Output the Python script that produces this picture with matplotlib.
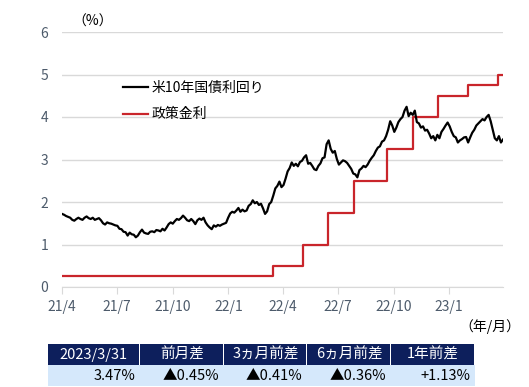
import numpy as np
import pandas as pd
import matplotlib
matplotlib.use('Agg')
import matplotlib.pyplot as plt
import matplotlib.dates as mdates
from matplotlib.patches import Rectangle

plt.rcParams['font.family'] = ['Noto Sans CJK JP', 'DejaVu Sans']

# US 10y yield, ~9 readings per month, 2021/4 - 2023/3
yield_10y = [
    1.72, 1.70, 1.67, 1.65, 1.63, 1.58, 1.56, 1.60, 1.63,  # 21/4
    1.60, 1.58, 1.63, 1.66, 1.62, 1.60, 1.63, 1.58, 1.60,  # 21/5
    1.62, 1.57, 1.50, 1.47, 1.52, 1.50, 1.49, 1.47, 1.45,  # 21/6
    1.44, 1.37, 1.36, 1.30, 1.29, 1.21, 1.28, 1.24, 1.23,  # 21/7
    1.17, 1.21, 1.29, 1.35, 1.28, 1.26, 1.25, 1.30, 1.31,  # 21/8
    1.29, 1.34, 1.33, 1.31, 1.37, 1.33, 1.40, 1.48, 1.52,  # 21/9
    1.49, 1.55, 1.60, 1.58, 1.62, 1.68, 1.63, 1.57, 1.55,  # 21/10
    1.60, 1.55, 1.48, 1.57, 1.61, 1.58, 1.63, 1.52, 1.45,  # 21/11
    1.40, 1.36, 1.45, 1.42, 1.46, 1.44, 1.47, 1.49, 1.51,  # 21/12
    1.63, 1.73, 1.77, 1.75, 1.80, 1.86, 1.77, 1.82, 1.78,  # 22/1
    1.80, 1.91, 1.95, 2.04, 1.97, 2.00, 1.93, 1.96, 1.85,  # 22/2
    1.72, 1.78, 1.95, 2.00, 2.15, 2.32, 2.38, 2.48, 2.35,  # 22/3
    2.40, 2.55, 2.72, 2.80, 2.93, 2.85, 2.90, 2.84, 2.94,  # 22/4
    2.97, 3.05, 3.10, 2.90, 2.92, 2.85, 2.77, 2.75, 2.85,  # 22/5
    2.91, 3.03, 3.05, 3.36, 3.45, 3.25, 3.16, 3.20, 3.01,  # 22/6
    2.88, 2.93, 2.98, 2.96, 2.92, 2.85, 2.78, 2.67, 2.65,  # 22/7
    2.58, 2.75, 2.79, 2.85, 2.82, 2.88, 2.97, 3.04, 3.10,  # 22/8
    3.20, 3.28, 3.31, 3.42, 3.45, 3.55, 3.70, 3.90, 3.80,  # 22/9
    3.65, 3.75, 3.88, 3.95, 4.00, 4.15, 4.24, 4.02, 4.10,  # 22/10
    4.05, 4.15, 3.88, 3.85, 3.75, 3.78, 3.68, 3.70, 3.61,  # 22/11
    3.50, 3.55, 3.45, 3.58, 3.50, 3.65, 3.72, 3.80, 3.87,  # 22/12
    3.78, 3.65, 3.55, 3.52, 3.40, 3.45, 3.48, 3.52, 3.53,  # 23/1
    3.40, 3.52, 3.63, 3.70, 3.80, 3.85, 3.90, 3.95, 3.92,  # 23/2
    4.00, 4.05, 3.90, 3.70, 3.50, 3.45, 3.55, 3.40, 3.47,  # 23/3
]
yield_dates = pd.date_range('2021-04-01', '2023-03-31', periods=len(yield_10y))

# policy rate (upper bound) change dates
policy_dates = pd.to_datetime(['2021-04-01', '2022-03-16', '2022-05-04', '2022-06-15',
                               '2022-07-27', '2022-09-21', '2022-11-02', '2022-12-14',
                               '2023-02-01', '2023-03-22', '2023-03-31'])
policy_rate = [0.25, 0.5, 1.0, 1.75, 2.5, 3.25, 4.0, 4.5, 4.75, 5.0, 5.0]

tick_dates = pd.to_datetime(['2021-04-01', '2021-07-01', '2021-10-01', '2022-01-01',
                             '2022-04-01', '2022-07-01', '2022-10-01', '2023-01-01'])
tick_labels = ['21/4', '21/7', '21/10', '22/1', '22/4', '22/7', '22/10', '23/1']

table_header = ['2023/3/31', '前月差', '3ヵ月前差', '6ヵ月前差', '1年前差']
table_values = ['3.47%', '▲0.45%', '▲0.41%', '▲0.36%', '+1.13%']

W, H = 529, 387
fig = plt.figure(figsize=(W / 100, H / 100), dpi=100)
ax = fig.add_axes([62 / W, (H - 287) / H, (503 - 62) / W, (287 - 32) / H])

tick_color = '#4d5b6b'
ax.plot(yield_dates, yield_10y, color='black', lw=1.6, label='米10年国債利回り', zorder=3)
ax.plot(policy_dates, policy_rate, color='#c9252b', lw=1.6, drawstyle='steps-post',
        label='政策金利', zorder=2)

ax.set_xlim(pd.Timestamp('2021-04-01'), pd.Timestamp('2023-03-31'))
ax.set_ylim(0, 6)
ax.set_yticks(range(7))
ax.set_xticks(tick_dates)
ax.set_xticklabels(tick_labels)
ax.grid(axis='y', color='#d9d9d9', lw=1)
ax.set_axisbelow(True)
for s in ['left', 'right', 'top']:
    ax.spines[s].set_visible(False)
ax.spines['bottom'].set_color('#d9d9d9')
ax.tick_params(axis='y', length=0, pad=10, labelsize=10, colors=tick_color)
ax.tick_params(axis='x', length=5, color='#d9d9d9', pad=4, labelsize=10, labelcolor=tick_color)

ax.legend(loc='upper left', bbox_to_anchor=(0.125, 0.83), frameon=False, fontsize=10,
          handlelength=1.8, handletextpad=0.3, labelspacing=0.9, borderaxespad=0)

fig.text(72 / W, 1 - 22 / H, '（%）', fontsize=10, va='center', ha='left')
fig.text(520 / W, 1 - 327 / H, '（年/月）', fontsize=10, va='center', ha='right')

# summary table
col_edges = [48, 140, 224, 307, 391, 475]
y_top, y_mid, y_bot = 344, 365, 386
for i in range(5):
    x0, x1 = col_edges[i], col_edges[i + 1]
    fig.patches.append(Rectangle((x0 / W, 1 - y_mid / H), (x1 - x0 - 1) / W, (y_mid - y_top) / H,
                                 transform=fig.transFigure, facecolor='#0d1f5c', edgecolor='none'))
    fig.text((x0 + x1) / 2 / W, 1 - (y_top + y_mid) / 2 / H, table_header[i], color='white',
             fontsize=10.5, ha='center', va='center')
    fig.text((x1 - 5) / W, 1 - (y_mid + y_bot) / 2 / H, table_values[i], color='black',
             fontsize=10.5, ha='right', va='center')
fig.patches.append(Rectangle((48 / W, 1 - y_bot / H), (475 - 48) / W, (y_bot - y_mid) / H,
                             transform=fig.transFigure, facecolor='#d5e8fb', edgecolor='none'))

fig.savefig('out.png', dpi=100)
